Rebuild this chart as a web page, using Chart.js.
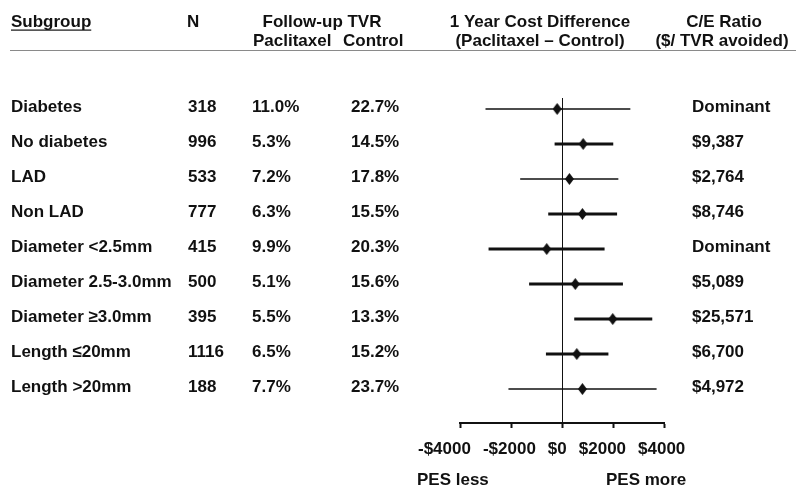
<!DOCTYPE html>
<html><head><meta charset="utf-8">
<script src="https://cdn.jsdelivr.net/npm/chart.js@4.4.1/dist/chart.umd.min.js"></script>
<style>html,body{margin:0;padding:0;background:#fff}#wrap{width:796px;height:488px;position:relative}</style>
</head><body><div id="wrap"><canvas id="c" width="796" height="488"></canvas></div>
<script>
// ---- data ----
const subgroups = ['Diabetes', 'No diabetes', 'LAD', 'Non LAD', 'Diameter <2.5mm', 'Diameter 2.5-3.0mm', 'Diameter \u22653.0mm', 'Length \u226420mm', 'Length >20mm'];
const nValues = [318, 996, 533, 777, 415, 500, 395, 1116, 188];
const tvrPaclitaxel = ['11.0%', '5.3%', '7.2%', '6.3%', '9.9%', '5.1%', '5.5%', '6.5%', '7.7%'];
const tvrControl = ['22.7%', '14.5%', '17.8%', '15.5%', '20.3%', '15.6%', '13.3%', '15.2%', '23.7%'];
const costDiff = [-190, 830, 290, 800, -600, 520, 1990, 580, 800];
const ciLow = [-3000, -290, -1640, -540, -2880, -1290, 480, -630, -2100];
const ciHigh = [2680, 2010, 2210, 2160, 1670, 2390, 3540, 1820, 3710];
const ceRatio = ['Dominant', '$9,387', '$2,764', '$8,746', 'Dominant', '$5,089', '$25,571', '$6,700', '$4,972'];
const xTicks = [-4000, -2000, 0, 2000, 4000];

// ---- style ----
const thinRows = [0, 2, 8];
const INK = '#111';
const fontStr = 'bold 17px "Liberation Sans", Arial, sans-serif';
const fmtTick = v => (v < 0 ? '-$' : '$') + Math.abs(v);

const diamond = document.createElement('canvas');
diamond.width = 9; diamond.height = 12;
(function () {
  const g = diamond.getContext('2d');
  g.fillStyle = INK;
  g.beginPath(); g.moveTo(4.5, 0); g.lineTo(9, 6); g.lineTo(4.5, 12); g.lineTo(0, 6); g.closePath(); g.fill();
})();

const datasets = [{
  data: costDiff.map((v, i) => ({x: v, y: i})),
  pointStyle: diamond, pointRadius: 6, showLine: false, order: 0
}].concat(subgroups.map((s, i) => ({
  data: [{x: ciLow[i], y: i}, {x: ciHigh[i], y: i}],
  showLine: true, pointRadius: 0, borderColor: INK,
  borderWidth: thinRows.includes(i) ? 1.5 : 3, order: 1
})));

const tablePlugin = {
  id: 'table',
  afterDraw(chart) {
    const ctx = chart.ctx, ys = chart.scales.y, xs = chart.scales.x;
    ctx.save();
    ctx.fillStyle = INK;
    ctx.font = fontStr;
    ctx.textBaseline = 'middle';
    // headers
    ctx.textAlign = 'left';
    ctx.fillText('Subgroup', 11, 22);
    const w = ctx.measureText('Subgroup').width;
    ctx.fillRect(11, 29.5, w, 1.2);
    ctx.fillText('N', 187, 22);
    ctx.textAlign = 'center';
    ctx.fillText('Follow-up TVR', 322, 22);
    ctx.fillText('1 Year Cost Difference', 540, 22);
    ctx.fillText('(Paclitaxel \u2013 Control)', 540, 41);
    ctx.fillText('C/E Ratio', 724, 22);
    ctx.fillText('($/ TVR avoided)', 722, 41);
    ctx.textAlign = 'left';
    ctx.fillText('Paclitaxel', 253, 41);
    ctx.fillText('Control', 343, 41);
    // header rule
    ctx.fillStyle = '#8a8a8a';
    ctx.fillRect(10, 50, 786, 1);
    ctx.fillStyle = INK;
    // rows
    subgroups.forEach((s, i) => {
      const py = ys.getPixelForValue(i) - 1.5;
      ctx.fillText(s, 11, py);
      ctx.fillText(String(nValues[i]), 188, py);
      ctx.fillText(tvrPaclitaxel[i], 252, py);
      ctx.fillText(tvrControl[i], 351, py);
      ctx.fillText(ceRatio[i], 692, py);
    });
    // axis tick labels, typeset as one spaced line under the axis
    let tx = xs.getPixelForValue(xTicks[0]) - 42;
    const ty = xs.top + 26;
    xTicks.forEach(v => {
      const s = fmtTick(v);
      ctx.fillText(s, tx, ty);
      tx += ctx.measureText(s).width + 12;
    });
    // direction labels
    ctx.fillText('PES less', 417, 480);
    ctx.fillText('PES more', 606, 480);
    ctx.restore();
  }
};

new Chart(document.getElementById('c'), {
  type: 'scatter',
  data: {datasets},
  plugins: [tablePlugin],
  options: {
    responsive: false, animation: false, devicePixelRatio: 1,
    layout: {padding: {left: 460, right: 132, top: 98, bottom: 0}},
    plugins: {legend: {display: false}, tooltip: {enabled: false}},
    scales: {
      x: {
        type: 'linear', min: -4000, max: 4000,
        afterBuildTicks: s => { s.ticks = xTicks.map(v => ({value: v})); },
        afterFit: s => { s.height = 65; },
        ticks: {display: false, callback: fmtTick},
        grid: {
          drawOnChartArea: true, drawTicks: true, tickLength: 5,
          color: c => (c.tick && c.tick.value === 0) ? INK : 'rgba(0,0,0,0)',
          lineWidth: 1, tickColor: INK, tickWidth: 2
        },
        border: {display: true, color: INK, width: 2}
      },
      y: {
        type: 'linear', reverse: true, min: -0.314, max: 8.971, display: false
      }
    }
  }
});
</script>
</body></html>
